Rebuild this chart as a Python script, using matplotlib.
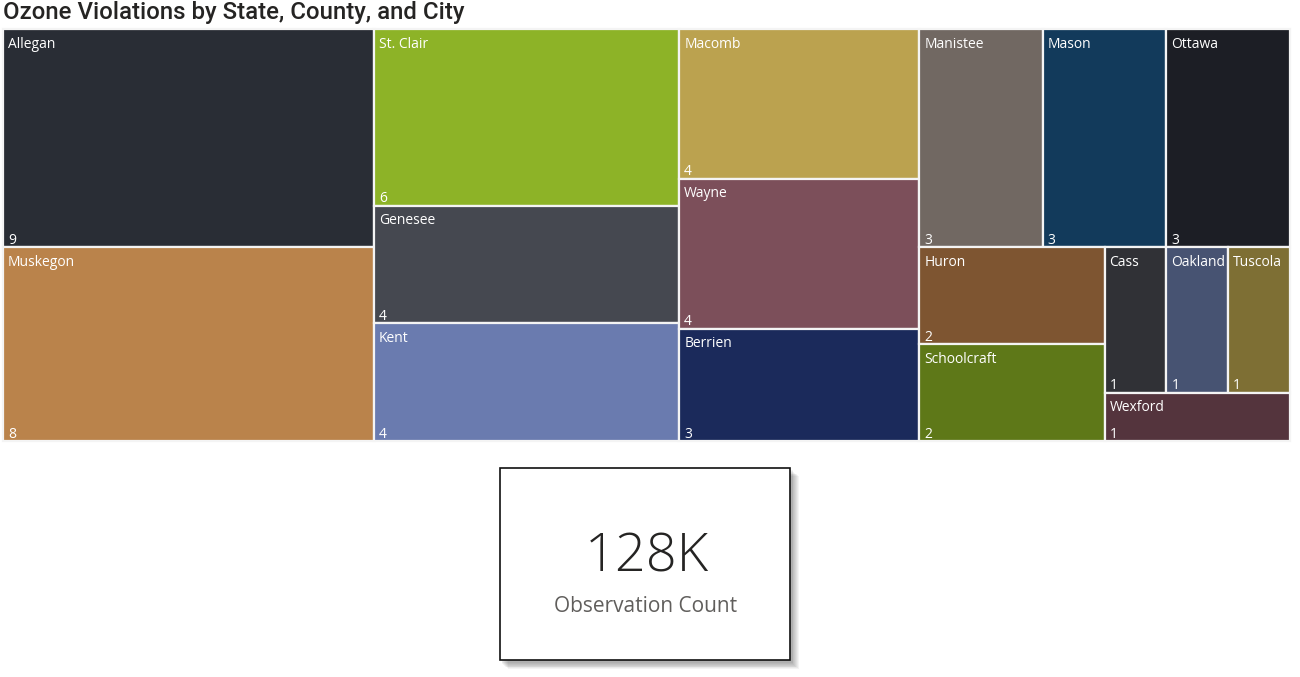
import matplotlib
matplotlib.use("Agg")
import matplotlib.pyplot as plt
from matplotlib.patches import Rectangle

# ---- data ----
counties = ["Allegan", "Muskegon", "St. Clair", "Genesee", "Kent", "Macomb", "Wayne",
            "Berrien", "Manistee", "Mason", "Ottawa", "Huron", "Schoolcraft",
            "Cass", "Oakland", "Tuscola", "Wexford"]
violations = [9, 8, 6, 4, 4, 4, 4, 3, 3, 3, 3, 2, 2, 1, 1, 1, 1]
colors = ["#292D35", "#BA834B", "#8DB327", "#454850", "#6A7BAF", "#BBA24F", "#7C4F5A",
          "#1B2A5B", "#716862", "#123A5B", "#1C1E25", "#7E5531", "#5E7818",
          "#303136", "#475372", "#7E6F34", "#54343D"]
title = "Ozone Violations by State, County, and City"
card_value = "128K"
card_label = "Observation Count"


def squarify(values, x0, y0, x1, y1, ratio=(1 + 5 ** 0.5) / 2):
    """d3-style squarified treemap layout (golden ratio)."""
    rects = [None] * len(values)
    total = float(sum(values))
    i0 = i1 = 0
    n = len(values)
    while i0 < n:
        dx, dy = x1 - x0, y1 - y0
        s = values[i1]; i1 += 1
        vmin = vmax = s
        alpha = max(dy / dx, dx / dy) / (total * ratio)
        beta = s * s * alpha
        min_ratio = max(vmax / beta, beta / vmin)
        while i1 < n:
            v = values[i1]
            s += v
            vmin = min(vmin, v); vmax = max(vmax, v)
            beta = s * s * alpha
            nr = max(vmax / beta, beta / vmin)
            if nr > min_ratio:
                s -= v
                break
            min_ratio = nr
            i1 += 1
        if dx < dy:  # dice: horizontal row at top
            h = dy * s / total
            xx = x0
            for k in range(i0, i1):
                w = dx * values[k] / s
                rects[k] = (xx, y0, w, h)
                xx += w
            y0 += h
        else:  # slice: vertical column at left
            w = dx * s / total
            yy = y0
            for k in range(i0, i1):
                h = dy * values[k] / s
                rects[k] = (x0, yy, w, h)
                yy += h
            x0 += w
        total -= s
        i0 = i1
    return rects


W, H = 1300, 677
fig = plt.figure(figsize=(W / 100, H / 100), dpi=100)
ax = fig.add_axes([0, 0, 1, 1])
ax.set_xlim(0, W)
ax.set_ylim(H, 0)
ax.axis("off")

ax.text(3, 12.5, title, fontsize=17.3, family="Roboto", fontweight="medium",
        color="#252423", va="center", ha="left")

# treemap area
TX0, TY0, TX1, TY1 = 2, 28, 1291, 442
ax.add_patch(Rectangle((TX0, TY0), TX1 - TX0, TY1 - TY0, facecolor="#E6E6E6",
                       edgecolor="none"))
rects = squarify(violations, TX0 + 1, TY0 + 1, TX1 - 1, TY1 - 1)
for (x, y, w, h), name, val, c in zip(rects, counties, violations, colors):
    ax.add_patch(Rectangle((x, y), w, h, facecolor=c, edgecolor="#F4F4F4", lw=1.6))
    ax.text(x + 5, y + 15, name, fontsize=10, family="Open Sans", color="white",
            va="center", ha="left")
    ax.text(x + 5, y + h - 7, str(val), fontsize=10, family="Open Sans",
            color="white", va="center", ha="left")

# card with soft shadow
cx, cy, cw, ch = 500, 468, 290, 192
for i in range(8):
    off = 14 - 1.6 * i
    ax.add_patch(Rectangle((cx + off * 0.55, cy + off * 0.6), cw + 1, ch + 1,
                           facecolor="black", alpha=0.045, edgecolor="none"))
ax.add_patch(Rectangle((cx, cy), cw, ch, facecolor="white", edgecolor="#111111", lw=1.2))
ax.text(cx + cw / 2 + 2, 558, card_value, fontsize=39, family="Open Sans",
        fontweight="light", color="#252423", ha="center", va="center")
ax.text(cx + cw / 2 + 1, 607, card_label, fontsize=15, family="Open Sans",
        color="#605E5C", ha="center", va="center")

fig.savefig("out.png", dpi=100)
